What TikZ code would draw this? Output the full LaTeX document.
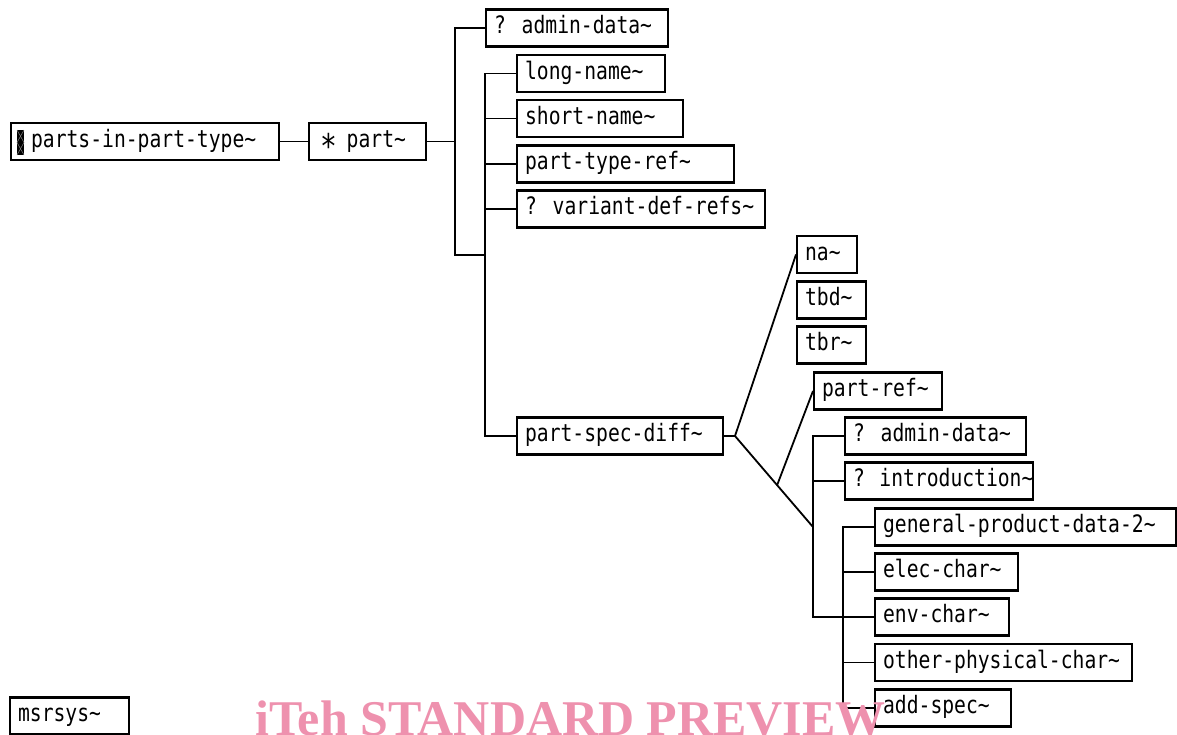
\documentclass[tikz,border=0pt]{standalone}
\usepackage{fontspec}
\usepackage{xcolor}
\usetikzlibrary{calc}
\newfontfamily\boxfont{DejaVu Sans Mono}[FakeStretch=0.82]
\newfontfamily\stampfont{Liberation Serif}
\definecolor{stamppink}{RGB}{238,145,174}
\newcommand{\tld}{\textasciitilde}

\begin{document}
\begin{tikzpicture}[
        x=1pt, y=-1pt,
        elem/.style={draw, line width=2.2pt, anchor=west, minimum height=37pt,
            inner xsep=8pt, inner ysep=4pt, text height=16pt, text depth=5pt,
            execute at begin node={\hbox to \dimexpr#1pt-16pt\relax\bgroup},
            execute at end node={\hfil\egroup},
            font=\boxfont\fontsize{24}{24}\selectfont},
        link/.style={line width=1.8pt}
    ]
        \useasboundingbox (0,0) rectangle (1177,734);
        \clip (0,0) rectangle (1177,734);

        % top level
        \node[elem=268] (pipt) at (10,141.5) {\hspace*{12pt}parts-in-part-type\tld};
        \node[elem=117] (part) at (308,141.5) {\hspace*{3pt}\raisebox{-11pt}{\fontsize{34}{34}\selectfont *}\hspace*{-2pt} part\tld};
        \fill ($(pipt.west)+(7,-11.5)$) rectangle ++(7,25);
        \draw[gray, line width=0.5pt] ($(pipt.west)+(7,-11.5)$) -- ++(7,12.5) -- ++(-7,12.5)
            ($(pipt.west)+(14,-11.5)$) -- ++(-7,12.5) -- ++(7,12.5);

        % part
        \node[elem=182] (admin1) at (485,28) {? admin-data\tld};
        \node[elem=148] (longname) at (516,73.5) {long-name\tld};
        \node[elem=166] (shortname) at (516,118.5) {short-name\tld};
        \node[elem=217] (parttyperef) at (516,164) {part-type-ref\tld};
        \node[elem=248] (variantdefrefs) at (516,209) {? variant-def-refs\tld};
        \node[elem=206] (psd) at (516,436) {part-spec-diff\tld};

        % part-spec-diff
        \node[elem=60] (na) at (796,254.5) {na\tld};
        \node[elem=69] (tbd) at (796,300) {tbd\tld};
        \node[elem=69] (tbr) at (796,345) {tbr\tld};
        \node[elem=128] (partref) at (813,391) {part-ref\tld};
        \node[elem=181] (admin2) at (844,436) {? admin-data\tld};
        \node[elem=188] (intro) at (844,481) {? introduction\tld};
        \node[elem=301] (gpd) at (874,527) {general-product-data-2\tld};
        \node[elem=143] (elecchar) at (874,572) {elec-char\tld};
        \node[elem=134] (envchar) at (874,617) {env-char\tld};
        \node[elem=257] (otherphys) at (874,662.5) {other-physical-char\tld};
        \node[elem=136] (addspec) at (874,708) {add-spec\tld};

        \node[elem=119] (msrsys) at (9,716) {msrsys\tld};

        \coordinate (j1) at (455,141.5);
        \coordinate (j2) at (485,255);
        \coordinate (c1) at (735,436);
        \coordinate (j3) at (813,527);
        \coordinate (j4) at (843,617);

        \draw[link] (pipt) -- (part);
        \draw[link] (part) -- (j1);
        \draw[link] (admin1.west) -| (j1) |- (j2);
        \draw[link] (longname.west) -| (j2) |- (psd.west);
        \foreach \n in {shortname, parttyperef, variantdefrefs}
            \draw[link] (\n.west) -- (j2 |- \n.west);

        \draw[link] (psd) -- (c1);
        \draw[link] (na.west) -- (c1) -- (j3);
        \draw[link] ($(c1)!0.54!(j3)$) -- (partref.west);
        \draw[link] (admin2.west) -| (j3) |- (envchar.west);
        \draw[link] (intro.west) -- (j3 |- intro.west);
        \draw[link] (gpd.west) -| (j4) |- (addspec.west);
        \foreach \n in {elecchar, otherphys}
            \draw[link] (\n.west) -- (j4 |- \n.west);

        \node[anchor=base west, inner sep=0, text=stamppink,
            font=\stampfont\bfseries\fontsize{50}{50}\selectfont] (stamp) at (255,735) {iTeh STANDARD PREVIEW};
    \end{tikzpicture}
\end{document}
